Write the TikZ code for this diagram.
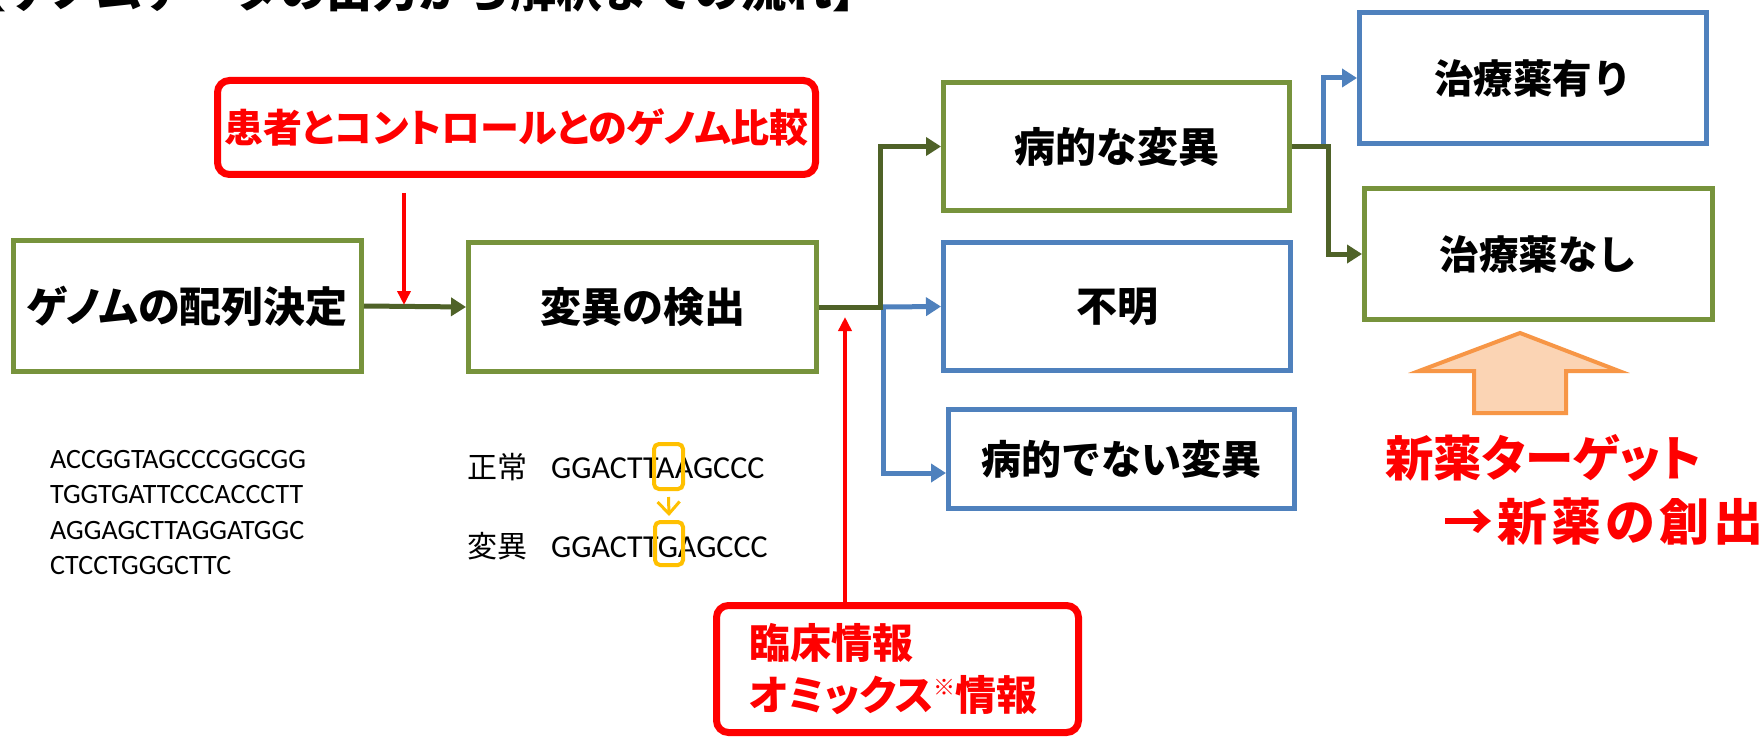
\documentclass[tikz,border=0pt]{standalone}
\usepackage{fontspec}
\usepackage{graphicx}
\setmainfont{Noto Sans CJK JP}
\newfontfamily\jpp{Noto Sans CJK JP}[RawFeature=+palt]
\newfontfamily\lat{Carlito}
\usetikzlibrary{arrows.meta}
\definecolor{boxgreen}{HTML}{77933C}
\definecolor{darkgreen}{HTML}{4F6228}
\definecolor{boxblue}{HTML}{4F81BD}
\definecolor{orgline}{HTML}{F79646}
\definecolor{orgfill}{HTML}{FBD4B4}
\definecolor{ylw}{HTML}{FFC000}
\newcommand{\myfs}[1]{\fontsize{#1pt}{#1pt}\selectfont}
\tikzset{
 gbox/.style={draw=boxgreen,line width=5pt,inner sep=0pt,font=\bfseries\myfs{40}},
 bbox/.style={draw=boxblue,line width=5pt,inner sep=0pt,font=\bfseries\myfs{40}},
 rbox/.style={draw=red,line width=7pt,rounded corners=12pt,text=red},
 garrow/.style={draw=darkgreen,line width=5pt,-{Triangle[length=15pt,width=18pt]}},
 barrow/.style={draw=boxblue,line width=5pt,-{Triangle[length=15pt,width=18pt]}},
 rarrow/.style={draw=red,line width=3.5pt,-{Triangle[length=14pt,width=13pt]}},
 ybox/.style={draw=ylw,line width=4pt,rounded corners=5pt,inner sep=0pt},
}
\begin{document}
\begin{tikzpicture}[x=1pt,y=-1pt]
\useasboundingbox (0,0) rectangle (1760,738);
\clip (0,0) rectangle (1760,738);
\fill[white] (0,0) rectangle (1760,738);

% title (cut off at the top)
\node[anchor=base west,inner sep=0pt,font=\bfseries\myfs{46}] (title) at (-40,8) {【ゲノムデータの出力から解釈までの流れ】};

% boxes
\node[gbox,minimum width=348pt,minimum height=131pt,font=\jpp\bfseries\myfs{42}] (seq) at (187.5,306) {ゲノムの配列決定};
\node[gbox,minimum width=348pt,minimum height=129pt,font=\bfseries\myfs{41}] (det) at (642.5,307) {変異の検出};
\node[rbox,minimum width=598pt,minimum height=94pt,font=\jpp\bfseries\myfs{39}] (cmp) at (516.5,127.5) {\raisebox{-6pt}{患者とコントロールとのゲノム比較}};
\node[gbox,minimum width=346pt,minimum height=128pt,font=\bfseries\myfs{41}] (pv) at (1116.5,146.5) {病的な変異};
\node[bbox,minimum width=347pt,minimum height=128pt,font=\bfseries\myfs{41}] (unk) at (1117,306.5) {不明};
\node[bbox,minimum width=346pt,minimum height=99pt] (npv) at (1121.5,459) {病的でない変異};
\node[bbox,minimum width=347pt,minimum height=131pt,font=\bfseries\myfs{39.5}] (yes) at (1533,78) {治療薬有り};
\node[gbox,minimum width=348pt,minimum height=131pt,font=\bfseries\myfs{39.5}] (no) at (1538.5,254) {治療薬なし};
\node[rbox,text width=296pt,inner xsep=33pt,align=left,minimum height=127pt,
      font=\jpp\bfseries\fontsize{41pt}{52pt}\selectfont] (clin) at (897.5,669)
      {臨床情報\\オミックス{\myfs{22}\raisebox{15pt}{※}}情報};

% sequences
\node[anchor=north west,inner sep=0pt,align=left,font=\lat\fontsize{28pt}{35.5pt}\selectfont] (dna) at (50,450)
  {ACCGGTAGCCCGGCGG\\TGGTGATTCCCACCCTT\\AGGAGCTTAGGATGGC\\CTCCTGGGCTTC};
\node[anchor=base west,inner sep=0pt,font=\myfs{30}] (nrm) at (467,478) {正常\hspace{24pt}{\lat\myfs{32}GGACTTAAGCCC}};
\node[anchor=base west,inner sep=0pt,font=\myfs{30}] (mut) at (467,557) {変異\hspace{24pt}{\lat\myfs{32}GGACTTGAGCCC}};
\node[ybox,minimum width=29pt,minimum height=45pt] (ya) at (668.5,466.5) {};
\node[ybox,minimum width=28pt,minimum height=43pt] (yb) at (669,543.5) {};
\draw[ylw,line width=3pt,-{Straight Barb[length=12pt,width=22pt]}] ([yshift=-6pt]ya.south) -- ([yshift=4pt]yb.north);

% orange block arrow
\draw[draw=orgline,fill=orgfill,line width=4pt] (1520,333) -- (1619,371) -- (1566,371) -- (1566,413) -- (1474,413) -- (1474,371) -- (1419,371) -- cycle;

% red texts
\node[anchor=west,inner sep=0pt,text=red,font=\jpp\bfseries\myfs{48.5}] (tg) at (1385,458) {新薬ターゲット};
\node[anchor=west,inner sep=0pt,text=red,font=\bfseries\myfs{50}\addfontfeature{LetterSpace=8}] (cr) at (1443,522) {→新薬の創出};

% connectors
\coordinate (j0) at (880,307);
\coordinate (j1) at (883,307);
\coordinate (j2) at (1323,146.5);
\coordinate (j3) at (1328,146.5);
\coordinate (c1s) at (404,193);
\coordinate (c1e) at (404,305);
\coordinate (c2) at (845,317);

\draw[garrow] (seq.east) -- (det.west);
\draw[barrow] (j1) -- (unk.west);
\draw[barrow] (j1) |- ([yshift=-14pt]npv.west);
\draw[garrow] (det.east) -- (j0) |- (pv.west);
\draw[barrow] (j2) |- (yes.west);
\draw[garrow] (pv.east) -- (j3) |- (no.west);
\draw[rarrow] (c1s) -- (c1e);
\draw[rarrow] (clin.north -| c2) -- (c2);
\end{tikzpicture}
\end{document}
